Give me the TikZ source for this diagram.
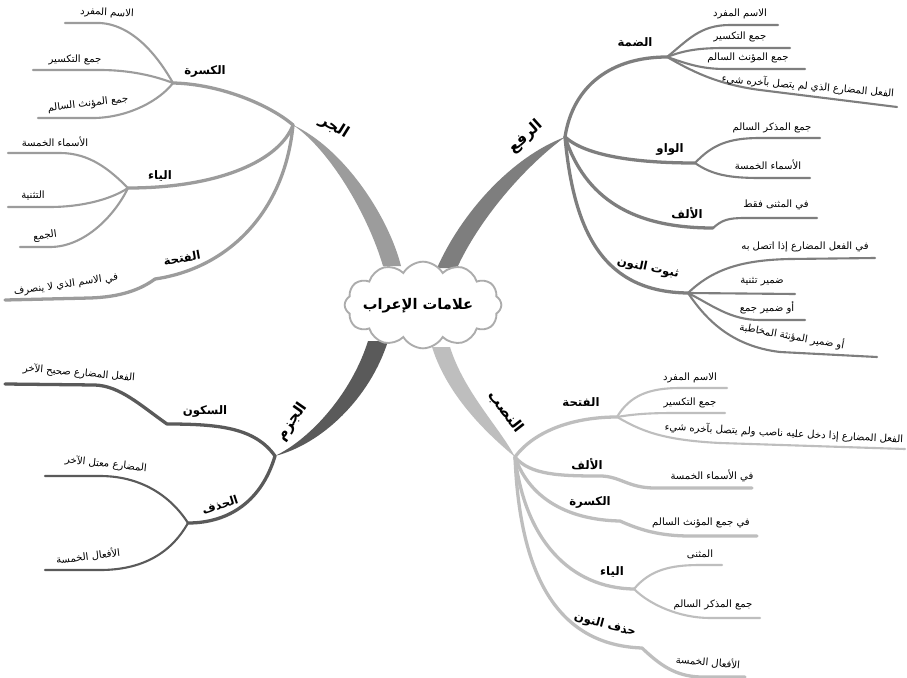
\documentclass[tikz,border=0pt]{standalone}
\usepackage{fontspec}
\TeXXeTstate=1
\newfontfamily\arfont[Script=Arabic]{DejaVu Sans}
\newcommand{\artx}[1]{\arfont\beginR #1\endR}
\usetikzlibrary{shapes.symbols,calc}

\definecolor{rafc}{HTML}{7E7E7E}
\definecolor{jarc}{HTML}{9C9C9C}
\definecolor{jazc}{HTML}{5A5A5A}
\definecolor{nasc}{HTML}{BEBEBE}

\tikzset{
  leaf/.style={font=\fontsize{8.6}{9}\selectfont, inner sep=0pt},
  sublbl/.style={font=\fontsize{10}{11}\selectfont\bfseries, inner sep=0pt},
  rootlbl/.style={font=\fontsize{13}{14}\selectfont\bfseries, inner sep=0pt},
  lvA/.style={line width=2.8pt, line cap=round, line join=round},
  lvB/.style={line width=1.8pt, line cap=round, line join=round},
}

\begin{document}
\begin{tikzpicture}[x=0.03cm,y=-0.03cm]
\useasboundingbox (0,0) rectangle (907,677);
\fill[white] (0,0) rectangle (907,677);

% ---- hubs and joints ----
\coordinate (rb) at (447,268);  \coordinate (R) at (565,137);
\coordinate (jb) at (392,266);  \coordinate (J) at (293,125);
\coordinate (zb) at (378,341);  \coordinate (Z) at (275,456);
\coordinate (nb) at (441,347);  \coordinate (N) at (515,457);

% ---- tapered main branches ----
\fill[rafc] ($(rb)+(-10,0)$) .. controls (462,212) and (512,157) .. (R)
  .. controls (523,168) and (479,220) .. ($(rb)+(10,0)$) -- cycle;
\fill[jarc] ($(jb)+(-9,0)$) .. controls (368,215) and (330,150) .. (J)
  .. controls (343,148) and (388,215) .. ($(jb)+(9,0)$) -- cycle;
\fill[jazc] ($(zb)+(-10,0)$) .. controls (352,392) and (312,438) .. (Z)
  .. controls (322,444) and (370,398) .. ($(zb)+(10,0)$) -- cycle;
\fill[nasc] ($(nb)+(-9,0)$) .. controls (448,398) and (490,436) .. (N)
  .. controls (500,428) and (464,392) .. ($(nb)+(9,0)$) -- cycle;

% ---- central cloud ----
\node[cloud, cloud puffs=12, cloud puff arc=120, aspect=1.8, draw=gray!65,
      line width=1.6pt, fill=white, minimum width=4.7cm, minimum height=2.6cm,
      inner sep=0pt] (root) at (423,305) {};
\node[font=\fontsize{12.5}{15}\selectfont\bfseries, inner sep=0pt] (roottxt)
      at (418,306) {\artx{علامات الإعراب}};

% ---- root labels ----
\node[rootlbl, rotate=42] (lraf) at (526,137) {\artx{الرفع}};
\node[rootlbl, rotate=-32] (ljar) at (334,127) {\artx{الجر}};
\node[rootlbl, rotate=55] (ljaz) at (292,422) {\artx{الجزم}};
\node[rootlbl, rotate=-52] (lnas) at (506,412) {\artx{النصب}};

% ================= الرفع =================
\coordinate (RD) at (667,57);
\coordinate (RW) at (695,163);
\coordinate (RA) at (713,228);
\coordinate (RT) at (688,293);
\begin{scope}[rafc]
\draw[lvA] (R) .. controls (573,85) and (612,57) .. (RD);
\draw[lvA] (R) .. controls (585,155) and (632,163) .. (RW);
\draw[lvA] (R) .. controls (585,198) and (632,228) .. (RA);
\draw[lvA] (R) .. controls (574,235) and (605,292) .. (RT);
\draw[lvB] (RD) .. controls (688,40) and (700,25) .. (730,25) -- (778,25);
\draw[lvB] (RD) .. controls (685,50) and (700,48) .. (725,48) -- (790,48);
\draw[lvB] (RD) .. controls (685,63) and (700,69) .. (725,69) -- (805,69);
\draw[lvB] (RD) .. controls (690,70) and (715,84) .. (760,90) -- (897,107);
\draw[lvB] (RW) .. controls (712,145) and (728,138) .. (760,138) -- (820,138);
\draw[lvB] (RW) .. controls (712,175) and (730,178) .. (760,178) -- (810,178);
\draw[lvB] (RA) .. controls (722,220) and (728,218) .. (745,218) -- (817,218);
\draw[lvB] (RT) .. controls (712,270) and (740,260) .. (790,259) -- (875,258);
\draw[lvB] (RT) -- (795,294);
\draw[lvB] (RT) .. controls (712,305) and (730,320) .. (760,320) -- (805,320);
\draw[lvB] (RT) .. controls (705,318) and (730,346) .. (780,352) -- (877,357);
\end{scope}
\node[sublbl] (rd) at (635,42) {\artx{الضمة}};
\node[sublbl] (rw) at (670,149) {\artx{الواو}};
\node[sublbl] (ra) at (687,213) {\artx{الألف}};
\node[sublbl, rotate=-12] (rt) at (648,268) {\artx{ثبوت النون}};
\node[leaf] (rd1) at (740,14) {\artx{الاسم المفرد}};
\node[leaf] (rd2) at (740,37) {\artx{جمع التكسير}};
\node[leaf] (rd3) at (748,58) {\artx{جمع المؤنث السالم}};
\node[leaf, rotate=-5] (rd4) at (808,86) {\artx{الفعل المضارع الذي لم يتصل بآخره شيء}};
\node[leaf] (rw1) at (772,128) {\artx{جمع المذكر السالم}};
\node[leaf] (rw2) at (768,165) {\artx{الأسماء الخمسة}};
\node[leaf] (ra1) at (776,205) {\artx{في المثنى فقط}};
\node[leaf] (rt1) at (805,247) {\artx{في الفعل المضارع إذا اتصل به}};
\node[leaf] (rt2) at (762,282) {\artx{ضمير تثنية}};
\node[leaf] (rt3) at (767,308) {\artx{أو ضمير جمع}};
\node[leaf, rotate=-10] (rt4) at (792,336) {\artx{أو ضمير المؤنثة المخاطبة}};

% ================= الجر =================
\coordinate (JK) at (173,83);
\coordinate (JY) at (128,188);
\coordinate (JF) at (155,279);
\begin{scope}[jarc]
\draw[lvA] (J) .. controls (270,105) and (220,84) .. (JK);
\draw[lvA] (J) .. controls (280,160) and (220,188) .. (JY);
\draw[lvA] (J) .. controls (285,210) and (230,268) .. (JF);
\draw[lvB] (JK) .. controls (160,60) and (135,25) .. (100,23) -- (65,23);
\draw[lvB] (JK) .. controls (155,76) and (130,70) .. (100,70) -- (33,70);
\draw[lvB] (JK) .. controls (160,100) and (130,117) .. (95,118) -- (38,118);
\draw[lvB] (JY) .. controls (110,170) and (90,153) .. (60,153) -- (8,153);
\draw[lvB] (JY) .. controls (110,200) and (80,207) .. (50,207) -- (8,207);
\draw[lvB] (JY) .. controls (115,215) and (85,247) .. (50,247) -- (20,247);
\draw[lvA] (JF) .. controls (140,290) and (120,297) .. (90,298) -- (5,300);
\end{scope}
\node[sublbl] (jk) at (205,71) {\artx{الكسرة}};
\node[sublbl] (jy) at (160,176) {\artx{الياء}};
\node[sublbl, rotate=10] (jf) at (182,258) {\artx{الفتحة}};
\node[leaf, rotate=-3] (jk1) at (107,13) {\artx{الاسم المفرد}};
\node[leaf] (jk2) at (75,60) {\artx{جمع التكسير}};
\node[leaf, rotate=7] (jk3) at (88,104) {\artx{جمع المؤنث السالم}};
\node[leaf] (jy1) at (55,142) {\artx{الأسماء الخمسة}};
\node[leaf] (jy2) at (33,195) {\artx{التثنية}};
\node[leaf, rotate=8] (jy3) at (45,236) {\artx{الجمع}};
\node[leaf, rotate=8] (jf1) at (66,285) {\artx{في الاسم الذي لا ينصرف}};

% ================= الجزم =================
\coordinate (ZS) at (167,424);
\coordinate (ZH) at (188,523);
\begin{scope}[jazc]
\draw[lvA] (Z) .. controls (255,428) and (220,424) .. (ZS)
  .. controls (140,405) and (120,386) .. (95,385) -- (5,384);
\draw[lvA] (Z) .. controls (262,500) and (230,523) .. (ZH);
\draw[lvB] (ZH) .. controls (170,495) and (140,476) .. (100,476) -- (45,476);
\draw[lvB] (ZH) .. controls (170,555) and (140,570) .. (100,570) -- (45,570);
\end{scope}
\node[sublbl] (zs) at (205,411) {\artx{السكون}};
\node[sublbl, rotate=18] (zh) at (220,505) {\artx{الحذف}};
\node[leaf, rotate=-5] (zs1) at (79,373) {\artx{الفعل المضارع صحيح الآخر}};
\node[leaf, rotate=-6] (zh1) at (106,464) {\artx{المضارع معتل الآخر}};
\node[leaf, rotate=7] (zh2) at (88,556) {\artx{الأفعال الخمسة}};

% ================= النصب =================
\coordinate (NF) at (617,417);
\coordinate (NA) at (600,476);
\coordinate (NK) at (620,521);
\coordinate (NY) at (634,589);
\coordinate (NH) at (642,648);
\begin{scope}[nasc]
\draw[lvA] (N) .. controls (535,430) and (575,417) .. (NF);
\draw[lvA] (N) .. controls (530,475) and (560,476) .. (NA)
  .. controls (620,476) and (628,488) .. (655,488) -- (752,488);
\draw[lvA] (N) .. controls (530,500) and (570,520) .. (NK)
  .. controls (640,530) and (660,536) .. (690,536) -- (757,536);
\draw[lvA] (N) .. controls (525,540) and (570,588) .. (NY);
\draw[lvA] (N) .. controls (520,580) and (560,645) .. (NH)
  .. controls (660,665) and (675,676) .. (700,677) -- (745,677);
\draw[lvB] (NF) .. controls (630,395) and (650,388) .. (680,388) -- (727,388);
\draw[lvB] (NF) .. controls (640,413) and (660,413) .. (680,413) -- (725,413);
\draw[lvB] (NF) .. controls (640,430) and (660,440) .. (720,443) -- (905,449);
\draw[lvB] (NY) .. controls (650,570) and (670,565) .. (700,565) -- (722,565);
\draw[lvB] (NY) .. controls (650,605) and (680,618) .. (710,618) -- (760,618);
\end{scope}
\node[sublbl] (nf) at (581,402) {\artx{الفتحة}};
\node[sublbl] (na) at (587,464) {\artx{الألف}};
\node[sublbl] (nk) at (590,502) {\artx{الكسرة}};
\node[sublbl] (ny) at (612,572) {\artx{الياء}};
\node[sublbl, rotate=-15] (nh) at (605,625) {\artx{حذف النون}};
\node[leaf] (nf1) at (690,378) {\artx{الاسم المفرد}};
\node[leaf] (nf2) at (690,403) {\artx{جمع التكسير}};
\node[leaf, rotate=-3] (nf3) at (784,433) {\artx{الفعل المضارع إذا دخل عليه ناصب ولم يتصل بآخره شيء}};
\node[leaf] (na1) at (712,476) {\artx{في الأسماء الخمسة}};
\node[leaf] (nk1) at (701,523) {\artx{في جمع المؤنث السالم}};
\node[leaf] (ny1) at (700,554) {\artx{المثنى}};
\node[leaf] (ny2) at (713,605) {\artx{جمع المذكر السالم}};
\node[leaf, rotate=-5] (nh1) at (708,662) {\artx{الأفعال الخمسة}};
\end{tikzpicture}
\end{document}
